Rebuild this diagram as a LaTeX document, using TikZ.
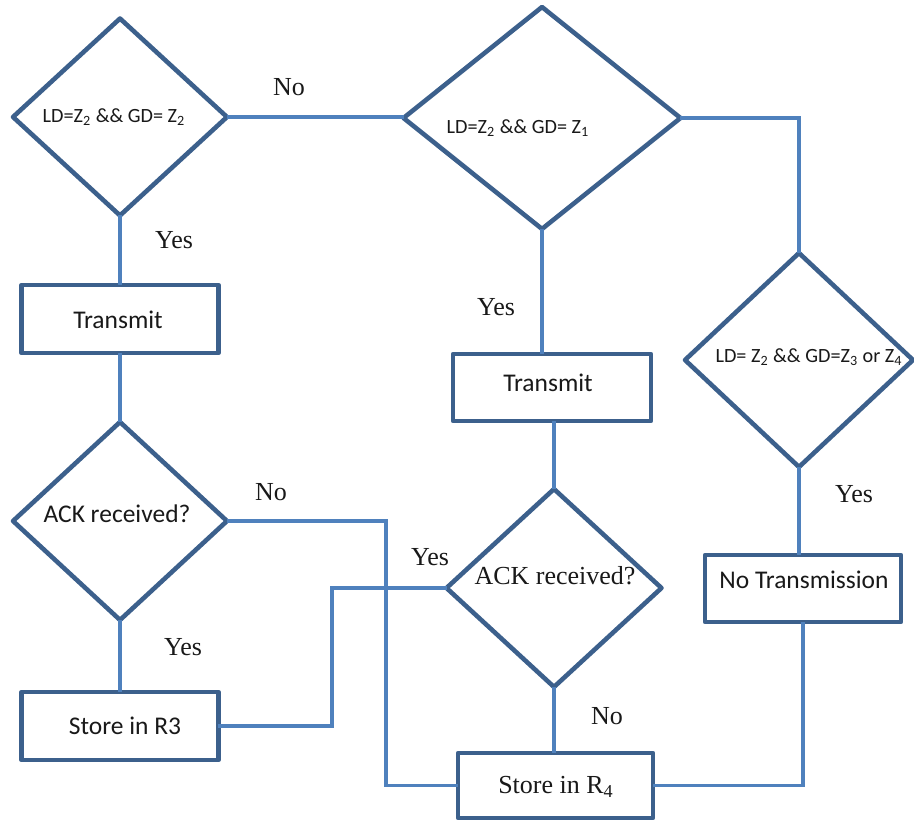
\documentclass[tikz,border=0pt]{standalone}
\usepackage{fontspec}
\setmainfont{Liberation Serif}
\newfontfamily\boxfont{Carlito}
\usetikzlibrary{shapes.geometric}
\definecolor{edgeblue}{RGB}{60,96,140}
\definecolor{linkblue}{RGB}{79,129,189}
\definecolor{ink}{RGB}{25,25,25}
\begin{document}
\begin{tikzpicture}[x=0.02cm,y=-0.02cm,
  decision/.style={diamond, draw=edgeblue, fill=white, line width=2.6pt, inner sep=0pt, outer sep=0pt, line join=round},
  stepbox/.style={rectangle, draw=edgeblue, fill=white, line width=2.6pt, inner sep=0pt, outer sep=0pt, line join=round},
  link/.style={draw=linkblue, line width=2.2pt},
  boxtext/.style={font=\boxfont\fontsize{14.5}{16}\selectfont, text=ink, inner sep=0pt},
  condtext/.style={font=\boxfont\fontsize{11.5}{13}\selectfont, text=ink, inner sep=0pt},
  serif/.style={font=\fontsize{14.8}{17}\selectfont, text=ink, inner sep=0pt},
]
\useasboundingbox (0,0) rectangle (914,821);

% columns where the "No" and "Yes" return lines turn
\coordinate (j1) at (386,0);
\coordinate (j2) at (332,0);

% decisions
\node[decision, minimum width=4.28cm, minimum height=3.94cm] (d1) at (120,117) {};
\node[decision, minimum width=5.54cm, minimum height=4.44cm] (d2) at (542,118) {};
\node[decision, minimum width=4.56cm, minimum height=4.28cm] (d3) at (799,360) {};
\node[decision, minimum width=4.28cm, minimum height=3.96cm] (d4) at (120,521) {};
\node[decision, minimum width=4.3cm, minimum height=3.96cm] (d5) at (554,588) {};

% process boxes
\node[stepbox, minimum width=3.94cm, minimum height=1.36cm] (t1) at (120,319) {};
\node[stepbox, minimum width=3.96cm, minimum height=1.34cm] (t2) at (552,387.5) {};
\node[stepbox, minimum width=3.92cm, minimum height=1.34cm] (nt) at (803,588.5) {};
\node[stepbox, minimum width=3.94cm, minimum height=1.36cm] (r3) at (120,726) {};
\node[stepbox, minimum width=3.9cm, minimum height=1.3cm] (r4) at (555.5,785.5) {};

% texts inside the shapes
\node[condtext] (d1t) at (114,117) {LD=Z\textsubscript{2} \&\& GD= Z\textsubscript{2}};
\node[condtext] (d2t) at (518,128) {LD=Z\textsubscript{2} \&\& GD= Z\textsubscript{1}};
\node[condtext] (d3t) at (809,357) {LD= Z\textsubscript{2} \&\& GD=Z\textsubscript{3} or Z\textsubscript{4}};
\node[boxtext] (d4t) at (117,514) {ACK received?};
\node[serif] (d5t) at (555,576) {ACK received?};
\node[boxtext] (t1t) at (118,320) {Transmit};
\node[boxtext] (t2t) at (548,383) {Transmit};
\node[boxtext] (ntt) at (804,580) {No Transmission};
\node[boxtext] (r3t) at (125,726) {Store in R3};
\node[serif] (r4t) at (556,787) {Store in R\textsubscript{4}};

% connectors
\draw[link] (d1.east) -- (d1.east -| d2.west);
\draw[link] (d2.east) -| (d3.north);
\draw[link] (d1.south) -- (t1.north);
\draw[link] (t1.south) -- (d4.north);
\draw[link] (d4.east) -- (d4.east -| j1) |- (r4.west);
\draw[link] (d4.south) -- (r3.north);
\draw[link] (r3.east) -- (r3.east -| j2) |- (d5.west);
\draw[link] (d2.south) -- (d2.south |- t2.north);
\draw[link] (t2.south -| d5.north) -- (d5.north);
\draw[link] (d3.south) -- (d3.south |- nt.north);
\draw[link] (nt.south) |- (r4.east);
\draw[link] (d5.south) -- (d5.south |- r4.north);

% branch labels
\node[serif] (l1) at (289,87) {No};
\node[serif] (l2) at (174,240) {Yes};
\node[serif] (l3) at (496,307) {Yes};
\node[serif] (l4) at (854,494) {Yes};
\node[serif] (l5) at (271,492) {No};
\node[serif] (l6) at (430,557) {Yes};
\node[serif] (l7) at (183,647) {Yes};
\node[serif] (l8) at (607,716) {No};
\end{tikzpicture}
\end{document}
